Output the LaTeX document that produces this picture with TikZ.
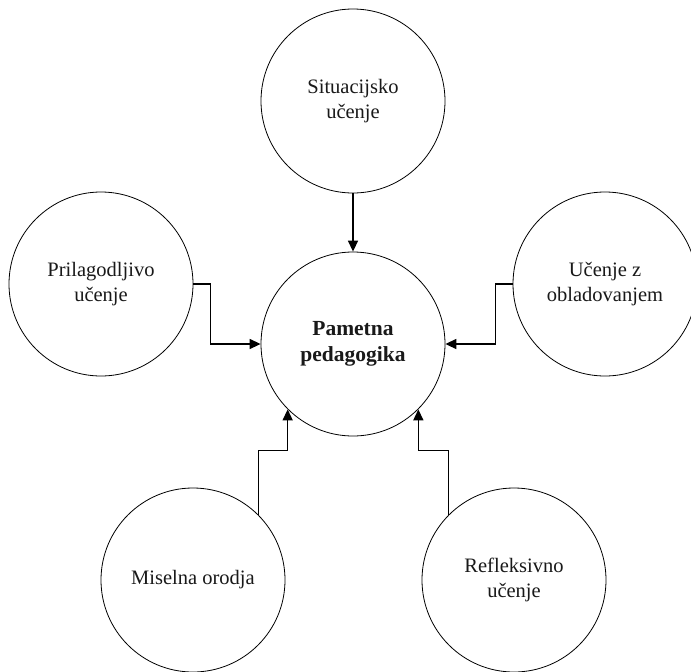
\documentclass[tikz,border=0pt]{standalone}
\usepackage{fontspec}
\setmainfont{Liberation Serif}
\usetikzlibrary{arrows.meta}
\begin{document}
\begin{tikzpicture}[x=1pt,y=-1pt,
  bubble/.style={circle,draw=black,line width=0.8pt,fill=white,minimum size=184pt,inner sep=0pt,
    align=center,text=black!90,font=\fontsize{20.5}{25}\selectfont},
  hub/.style={bubble,font=\fontsize{21.5}{26}\selectfont\bfseries},
  arr/.style={line width=1.4pt,-{Triangle[length=11pt,width=10pt]}}]
\useasboundingbox (0,0) rectangle (691,672);
\node[bubble] (top) at (353,101) {Situacijsko\\učenje};
\node[bubble] (left) at (101,284) {Prilagodljivo\\učenje};
\node[bubble] (right) at (605,284) {Učenje z\\obladovanjem};
\node[hub] (hub) at (353,344) {Pametna\\pedagogika};
\node[bubble] (bl) at (193,580) {Miselna orodja};
\node[bubble] (br) at (514,580) {Refleksivno\\učenje};
\draw[arr] (top) -- (hub);
\draw[arr] (left.east) -- ++(17,0) |- (hub.west);
\draw[arr] (right.west) -- ++(-17,0) |- (hub.east);
\draw[arr] (bl.45) -- ++(0,-64) -| (hub.225);
\draw[arr] (br.135) -- ++(0,-64) -| (hub.-45);
\end{tikzpicture}
\end{document}
